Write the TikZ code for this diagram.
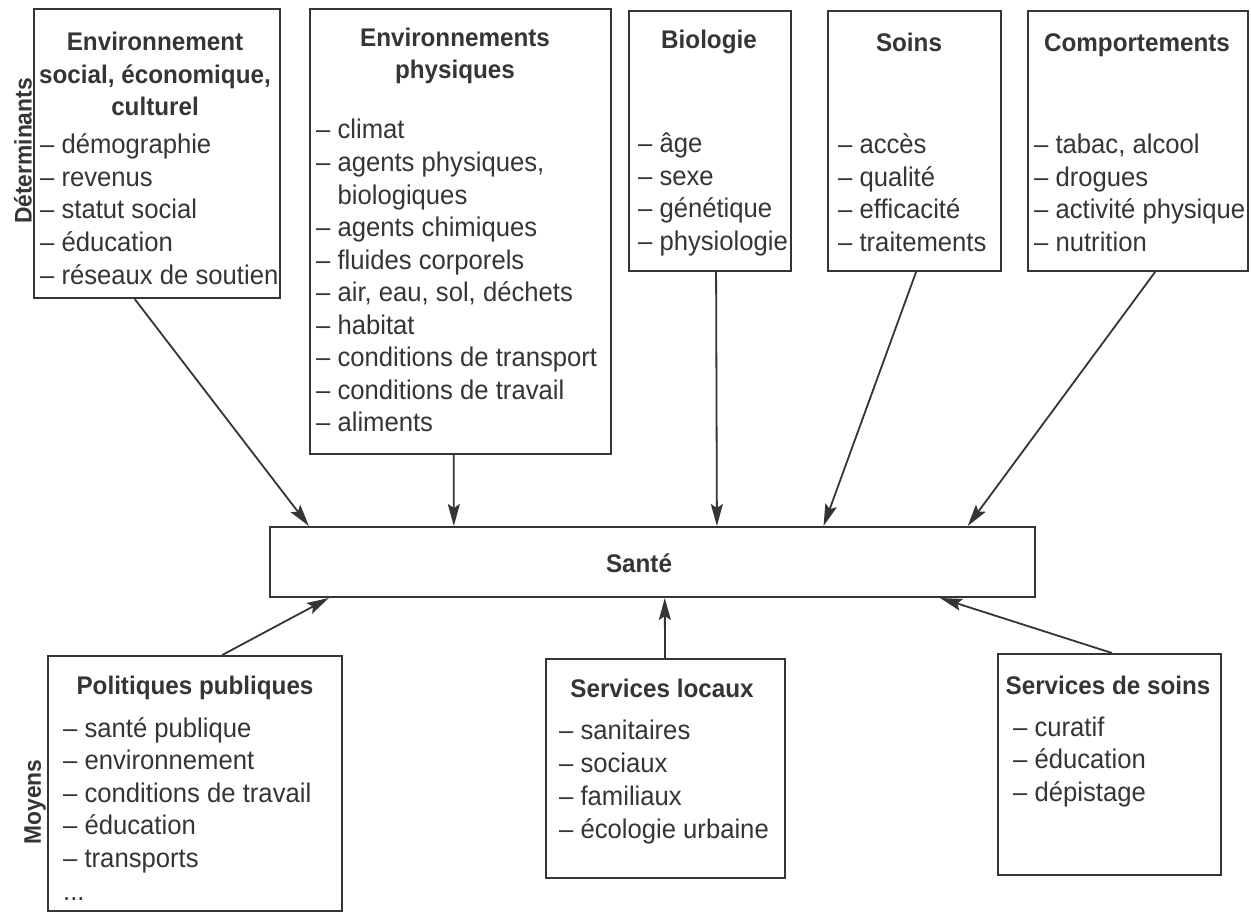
\documentclass[tikz,border=0pt]{standalone}
\usepackage{fontspec}
\setmainfont{Liberation Sans}[FakeStretch=0.95]
\usetikzlibrary{arrows.meta,calc}
\definecolor{ink}{HTML}{353535}
\begin{document}
\begin{tikzpicture}[x=1pt,y=-1pt,
  box/.style={draw=ink, line width=2pt, inner sep=0pt, anchor=north west},
  ttl/.style={font=\fontsize{25.5}{30}\selectfont\bfseries, text=ink, inner sep=0pt, anchor=base},
  itm/.style={font=\fontsize{27}{30}\selectfont, text=ink, inner sep=0pt, anchor=base west},
  side/.style={font=\fontsize{24}{28}\selectfont\bfseries, text=ink, rotate=90, inner sep=0pt},
  arr/.style={draw=ink, line width=1.8pt, -{Stealth[length=22pt,width=12pt,inset=4pt]}}
]
\fill[white] (0,0) rectangle (1251,912);
\useasboundingbox (0,0) rectangle (1251,912);

% side labels
\node[side] (det) at (23,151) {Déterminants};
\node[side] (moy) at (35,802) {Moyens};

% top boxes
\node[box, minimum width=246pt, minimum height=289pt] (b1) at (33,8) {};
\node[box, minimum width=301pt, minimum height=445pt] (b2) at (309,8) {};
\node[box, minimum width=162pt, minimum height=260pt] (b3) at (628,10) {};
\node[box, minimum width=173pt, minimum height=260pt] (b4) at (827,10) {};
\node[box, minimum width=220pt, minimum height=260pt] (b5) at (1027,10) {};

% central box
\node[box, minimum width=765pt, minimum height=70pt] (s) at (269,526) {};
\node[ttl] (st) at (639,572) {Santé};

% bottom boxes
\node[box, minimum width=294pt, minimum height=255pt] (m1) at (47,655) {};
\node[box, minimum width=239pt, minimum height=219pt] (m2) at (545,658) {};
\node[box, minimum width=223pt, minimum height=221pt] (m3) at (997,653) {};

% box 1
\node[ttl] (t1a) at (155,51) {Environnement};
\node[ttl] (t1b) at (155,84) {social, économique,};
\node[ttl] (t1c) at (155,116) {culturel};
\foreach \t [count=\i] in {démographie, revenus, statut social, éducation, réseaux de soutien}
  \node[itm] (i1-\i) at (40,{154+32.5*(\i-1)}) {– \t};

% box 2
\node[ttl] (t2a) at (455,47) {Environnements};
\node[ttl] (t2b) at (455,79) {physiques};
\foreach \t [count=\i] in {climat, {agents physiques,}, {\phantom{– }biologiques}, agents chimiques, fluides corporels, {air, eau, sol, déchets}, habitat, conditions de transport, conditions de travail, aliments}
  \node[itm] (i2-\i) at (316,{139+32.55*(\i-1)}) {\ifnum\i=3 \t\else – \t\fi};

% box 3
\node[ttl] (t3) at (709,49) {Biologie};
\foreach \t [count=\i] in {âge, sexe, génétique, physiologie}
  \node[itm] (i3-\i) at (638,{153+32.5*(\i-1)}) {– \t};

% box 4
\node[ttl] (t4) at (909,52) {Soins};
\foreach \t [count=\i] in {accès, qualité, efficacité, traitements}
  \node[itm] (i4-\i) at (838,{154+32.5*(\i-1)}) {– \t};

% box 5
\node[ttl] (t5) at (1137,52) {Comportements};
\foreach \t [count=\i] in {{tabac, alcool}, drogues, activité physique, nutrition}
  \node[itm] (i5-\i) at (1034,{154+32.5*(\i-1)}) {– \t};

% bottom box 1
\node[ttl] (u1) at (195,694) {Politiques publiques};
\foreach \t [count=\i] in {santé publique, environnement, conditions de travail, éducation, transports}
  \node[itm] (j1-\i) at (63,{737+32.5*(\i-1)}) {– \t};
\node[itm] (j1-6) at (63,900) {...};

% bottom box 2
\node[ttl] (u2) at (662,697) {Services locaux};
\foreach \t [count=\i] in {sanitaires, sociaux, familiaux, écologie urbaine}
  \node[itm] (j2-\i) at (559,{739+33*(\i-1)}) {– \t};

% bottom box 3
\node[ttl] (u3) at (1108,694) {Services de soins};
\foreach \t [count=\i] in {curatif, éducation, dépistage}
  \node[itm] (j3-\i) at (1013,{736+32.5*(\i-1)}) {– \t};

% arrows to Santé
\draw[arr] ($(b1.south west)!0.41!(b1.south east)$) -- ($(s.north west)!0.052!(s.north east)$);
\draw[arr] ($(b2.south west)!0.478!(b2.south east)$) -- ($(s.north west)!0.241!(s.north east)$);
\draw[arr] ($(b3.south west)!0.537!(b3.south east)$) -- ($(s.north west)!0.584!(s.north east)$);
\draw[arr] ($(b4.south west)!0.509!(b4.south east)$) -- ($(s.north west)!0.723!(s.north east)$);
\draw[arr] ($(b5.south west)!0.577!(b5.south east)$) -- ($(s.north west)!0.911!(s.north east)$);

\draw[arr] ($(m1.north west)!0.592!(m1.north east)$) -- ($(s.south west)!0.078!(s.south east)$);
\draw[arr] ($(m2.north west)!0.498!(m2.north east)$) -- ($(s.south west)!0.516!(s.south east)$);
\draw[arr] ($(m3.north west)!0.511!(m3.north east)$) -- ($(s.south west)!0.875!(s.south east)$);
\end{tikzpicture}
\end{document}
